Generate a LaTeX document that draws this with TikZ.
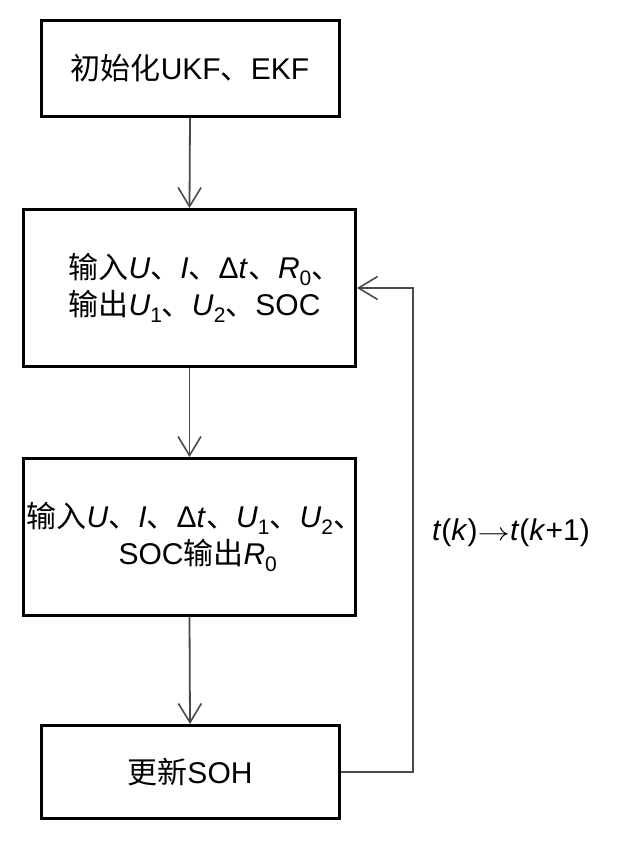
\documentclass[tikz,border=0pt]{standalone}
\usepackage{fontspec}
\setmainfont{Liberation Sans}
\newfontfamily\cjk{Noto Sans CJK SC}
\usetikzlibrary{arrows.meta}
\newcommand{\dun}{{\cjk 、}}
\newcommand{\sbs}[1]{\raisebox{-0.4ex}{\fontsize{21}{21}\selectfont #1}}
\definecolor{connc}{HTML}{4A4A4A}
\begin{document}
\begin{tikzpicture}[x=1pt,y=-1pt,
  box/.style={draw=black, line width=3pt, rectangle, inner sep=0pt,
    font=\fontsize{30}{37}\selectfont},
  conn/.style={draw=connc, line width=1.8pt,
    -{Straight Barb[length=19pt,width=23pt,line width=1.6pt]}},
  lab/.style={font=\fontsize{30}{36}\selectfont, inner sep=0pt}
]
\useasboundingbox (0,0) rectangle (641,843);
\fill[white] (0,0) rectangle (641,843);

\node[box, minimum width=298pt, minimum height=95pt] (b1) at (190,68.5)
  {{\cjk 初始化}UKF\dun EKF};
\node[box, minimum width=332pt, minimum height=157pt, text width=332pt, align=left] (b2) at (189.5,288)
  {\hspace*{45pt}{\cjk 输入}\textit{U}\dun\textit{I}\dun Δ\textit{t}\dun\textit{R}\sbs{0}\dun\\
   \hspace*{45pt}{\cjk 输出}\textit{U}\sbs{1}\dun\textit{U}\sbs{2}\dun SOC};
\node[box, minimum width=332pt, minimum height=157pt, text width=332pt, align=left] (b3) at (189.5,537)
  {\hspace*{3pt}{\cjk 输入}\textit{U}\dun\textit{I}\dun Δ\textit{t}\dun\textit{U}\sbs{1}\dun\textit{U}\sbs{2}\dun\\
   \hspace*{95pt}SOC{\cjk 输出}\textit{R}\sbs{0}};
\node[box, minimum width=298pt, minimum height=93pt] (b4) at (190,772)
  {{\cjk 更新}SOH};

\node[lab] (lbl) at (511,533) {\textit{t}(\textit{k})\scalebox{1.3}[1]{$\rightarrow$}\textit{t}(\textit{k}+1)};

\coordinate (fb) at (413,772);
\draw[conn] (b1.south) -- (b2.north);
\draw[conn] (b2.south) -- (b3.north);
\draw[conn] (b3.south) -- (b4.north);
\draw[conn] (b4.east) -- (fb) |- (b2.east);
\end{tikzpicture}
\end{document}
